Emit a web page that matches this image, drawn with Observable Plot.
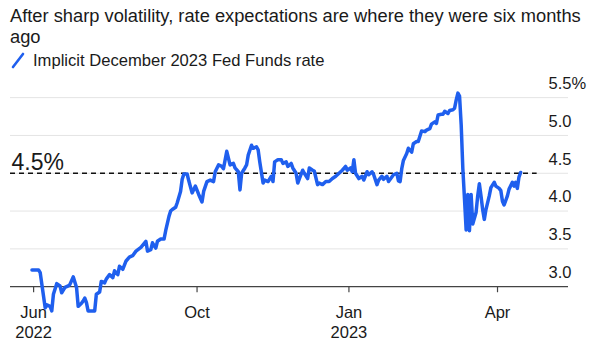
<!DOCTYPE html>
<html><head><meta charset="utf-8">
<script src="https://cdn.jsdelivr.net/npm/d3@7"></script>
<script src="https://cdn.jsdelivr.net/npm/@observablehq/plot@0.6"></script>
<style>
body{margin:0;background:#fff;font-family:"Liberation Sans",Arial,Helvetica,sans-serif;color:#1a1a1a;width:596px;height:347px;overflow:hidden}
#title{font-size:18.3px;line-height:21px;padding:5px 0 0 10px;height:42px}
#legend{height:21px;font-size:16.6px;display:flex;align-items:center;padding-left:11px;position:relative;top:3px}
#chart svg{display:block}
</style></head><body>
<div id="title">After sharp volatility, rate expectations are where they were six months<br>ago</div>
<div id="legend"><svg width="14" height="17"><line x1="2" y1="15" x2="12" y2="2" stroke="#1f5fee" stroke-width="2.6" stroke-linecap="round"/></svg><span style="margin-left:8px">Implicit December 2023 Fed Funds rate</span></div>
<div id="chart"></div>
<script>
const dates = ["2022-06-23","2022-06-27","2022-06-28","2022-07-01","2022-07-02","2022-07-04","2022-07-05","2022-07-06","2022-07-08","2022-07-10","2022-07-11","2022-07-13","2022-07-15","2022-07-16","2022-07-18","2022-07-20","2022-07-21","2022-07-23","2022-07-24","2022-07-25","2022-07-26","2022-07-27","2022-07-31","2022-08-01","2022-08-03","2022-08-04","2022-08-06","2022-08-07","2022-08-09","2022-08-11","2022-08-12","2022-08-14","2022-08-15","2022-08-17","2022-08-19","2022-08-21","2022-08-23","2022-08-25","2022-08-28","2022-08-31","2022-09-01","2022-09-03","2022-09-04","2022-09-06","2022-09-07","2022-09-09","2022-09-11","2022-09-12","2022-09-14","2022-09-15","2022-09-16","2022-09-18","2022-09-19","2022-09-21","2022-09-22","2022-09-23","2022-09-25","2022-09-26","2022-09-28","2022-09-30","2022-10-02","2022-10-04","2022-10-05","2022-10-07","2022-10-09","2022-10-11","2022-10-12","2022-10-14","2022-10-16","2022-10-17","2022-10-19","2022-10-21","2022-10-23","2022-10-24","2022-10-26","2022-10-27","2022-10-28","2022-10-30","2022-10-31","2022-11-01","2022-11-03","2022-11-04","2022-11-06","2022-11-07","2022-11-08","2022-11-10","2022-11-11","2022-11-13","2022-11-15","2022-11-16","2022-11-17","2022-11-19","2022-11-21","2022-11-22","2022-11-24","2022-11-25","2022-11-27","2022-11-28","2022-11-30","2022-12-01","2022-12-02","2022-12-04","2022-12-05","2022-12-07","2022-12-08","2022-12-10","2022-12-11","2022-12-13","2022-12-14","2022-12-16","2022-12-18","2022-12-20","2022-12-22","2022-12-24","2022-12-26","2022-12-28","2022-12-30","2022-12-31","2023-01-02","2023-01-03","2023-01-04","2023-01-05","2023-01-07","2023-01-09","2023-01-10","2023-01-12","2023-01-13","2023-01-15","2023-01-16","2023-01-18","2023-01-19","2023-01-21","2023-01-22","2023-01-24","2023-01-25","2023-01-27","2023-01-28","2023-01-30","2023-01-31","2023-02-01","2023-02-02","2023-02-03","2023-02-05","2023-02-06","2023-02-08","2023-02-09","2023-02-11","2023-02-12","2023-02-14","2023-02-16","2023-02-17","2023-02-19","2023-02-20","2023-02-22","2023-02-23","2023-02-24","2023-02-26","2023-02-27","2023-02-28","2023-03-02","2023-03-03","2023-03-05","2023-03-06","2023-03-07","2023-03-08","2023-03-09","2023-03-10","2023-03-11","2023-03-12","2023-03-13","2023-03-14","2023-03-15","2023-03-16","2023-03-17","2023-03-19","2023-03-20","2023-03-21","2023-03-22","2023-03-23","2023-03-24","2023-03-25","2023-03-27","2023-03-28","2023-03-30","2023-03-31","2023-04-02","2023-04-03","2023-04-04","2023-04-05","2023-04-07","2023-04-08","2023-04-10","2023-04-11","2023-04-12","2023-04-13","2023-04-14","2023-04-15"];
const rates = [3.22,3.22,3.185,2.72,2.76,2.74,2.68,2.90,3.04,3.01,2.92,2.99,3.01,3.03,3.13,2.99,2.74,2.78,2.81,2.85,2.79,2.68,2.68,2.90,2.93,3.07,3.05,3.10,3.16,3.12,3.21,3.16,3.27,3.23,3.34,3.39,3.41,3.47,3.52,3.60,3.47,3.49,3.58,3.51,3.60,3.63,3.63,3.74,3.93,4.00,4.02,4.05,4.11,4.26,4.42,4.49,4.49,4.40,4.24,4.33,4.22,4.12,4.26,4.39,4.41,4.39,4.52,4.61,4.59,4.56,4.79,4.61,4.63,4.57,4.52,4.28,4.50,4.57,4.61,4.74,4.87,4.83,4.85,4.81,4.65,4.37,4.41,4.39,4.46,4.39,4.65,4.68,4.68,4.63,4.65,4.59,4.63,4.57,4.50,4.37,4.43,4.54,4.50,4.43,4.57,4.54,4.53,4.35,4.37,4.35,4.39,4.39,4.43,4.46,4.50,4.54,4.59,4.54,4.57,4.52,4.68,4.50,4.43,4.46,4.41,4.52,4.48,4.52,4.48,4.35,4.41,4.46,4.42,4.46,4.39,4.45,4.48,4.50,4.40,4.39,4.56,4.67,4.76,4.83,4.78,4.89,4.92,4.92,5.06,5.05,5.07,5.09,5.15,5.18,5.16,5.27,5.28,5.28,5.32,5.29,5.33,5.34,5.36,5.47,5.56,5.52,5.14,4.56,4.16,3.75,4.22,3.74,4.22,3.83,3.98,4.20,4.36,4.20,4.02,3.89,4.02,4.20,4.31,4.38,4.33,4.30,4.27,4.13,4.08,4.20,4.29,4.38,4.33,4.38,4.30,4.45,4.51];

const xDomain = ["2022-06-10","2023-05-14"];
const xTickDates = ["2022-06-24","2022-10-01","2023-01-01","2023-04-01"];
const xTickLabels = ["Jun\n2022","Oct","Jan\n2023","Apr"];
const yDomain = [2.5, 5.7];
const yTickValues = [3, 3.5, 4, 4.5, 5, 5.5];
const yTickLabels = ["3.0","3.5","4.0","4.5","5.0","5.5%"];
const gridValues = [3.5, 4, 4.5, 5, 5.5];
const baseValue = 3;
const refValue = 4.5;
const refLabel = "4.5%";
const refSpan = ["2022-06-10","2023-04-25"];

const parse = d3.utcParse("%Y-%m-%d");
const data = dates.map((d, i) => ({date: parse(d), rate: rates[i]}));
const font = '"Liberation Sans", Arial, Helvetica, sans-serif';

const chart = Plot.plot({
  width: 596, height: 279,
  marginLeft: 10, marginRight: 28, marginTop: 14, marginBottom: 23,
  x: {type: "utc", domain: xDomain.map(parse), axis: null},
  y: {domain: yDomain, axis: null},
  style: {fontFamily: font, fontSize: "16px", color: "#1a1a1a", background: "#fff", overflow: "visible"},
  marks: [
    Plot.ruleY(gridValues, {stroke: "#e4e4e4", strokeWidth: 1}),
    Plot.ruleY([refValue], {x1: () => parse(refSpan[0]), x2: () => parse(refSpan[1]), stroke: "#111", strokeDasharray: "5,4", strokeWidth: 1.5}),
    Plot.ruleY([baseValue], {stroke: "#444", strokeWidth: 1.2}),
    Plot.ruleX(xTickDates, {x: d => parse(d), y1: 3, y2: 2.92, stroke: "#444", strokeWidth: 1.2}),
    Plot.text(xTickDates, {x: d => parse(d), y: 3, text: (d, i) => xTickLabels[i], dy: 17, lineAnchor: "top", lineHeight: 1.2, fontSize: 16.5, fill: "#1a1a1a"}),
    Plot.text(yTickValues, {x: () => parse(xDomain[1]), y: d => d, text: (d, i) => yTickLabels[i], textAnchor: "start", dx: -20, dy: -14, fontSize: 16.5, fill: "#1a1a1a"}),
    Plot.text([refLabel], {x: () => parse(xDomain[0]), y: refValue, text: d => d, textAnchor: "start", lineAnchor: "bottom", dx: 1, dy: -3, fontSize: 23, fill: "#1a1a1a"}),
    Plot.line(data, {x: "date", y: "rate", stroke: "#1f5fee", strokeWidth: 3.5, strokeLinejoin: "round", strokeLinecap: "round"})
  ]
});
document.getElementById("chart").appendChild(chart);
</script>
</body></html>
